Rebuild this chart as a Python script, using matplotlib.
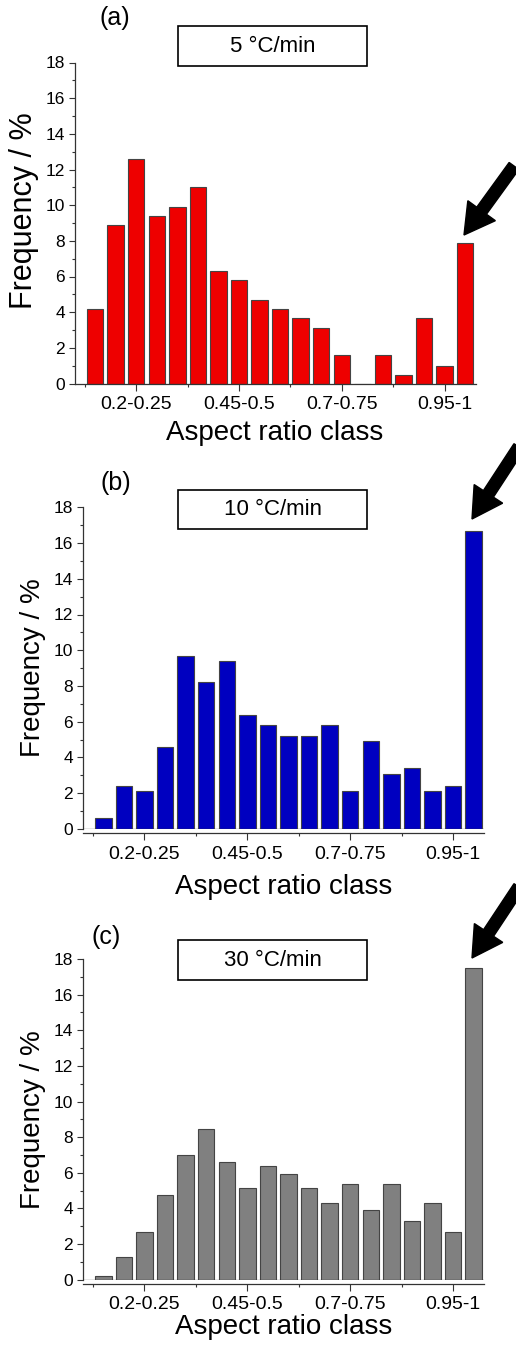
"""Aspect ratio class histograms for three heating rates (a)-(c)."""
import matplotlib; matplotlib.use("Agg")
import matplotlib.pyplot as plt
from matplotlib.patches import Rectangle, FancyArrow
from matplotlib.transforms import IdentityTransform
from matplotlib.ticker import FixedLocator, MultipleLocator

plt.rcParams["font.family"] = ["Liberation Sans", "DejaVu Sans"]

W, H = 516, 1349

# 19 aspect ratio classes, labelled every 5th one
class_idx = list(range(19))
tick_idx = [2, 7, 12, 17]
tick_labels = ["0.2-0.25", "0.45-0.5", "0.7-0.75", "0.95-1"]

freq_5 = [4.2, 8.9, 12.6, 9.4, 9.9, 11.0, 6.3, 5.8, 4.7, 4.2, 3.7, 3.1, 1.6, 0.0, 1.6, 0.5, 3.7, 1.0, 7.9]
freq_10 = [0.6, 2.4, 2.1, 4.6, 9.7, 8.2, 9.4, 6.4, 5.8, 5.2, 5.2, 5.8, 2.1, 4.9, 3.1, 3.4, 2.1, 2.4, 16.7]
freq_30 = [0.2, 1.25, 2.7, 4.75, 7.0, 8.45, 6.6, 5.15, 6.4, 5.95, 5.15, 4.3, 5.35, 3.9, 5.35, 3.3, 4.3, 2.7, 17.5]

rates = ["5 °C/min", "10 °C/min", "30 °C/min"]
tags = ["(a)", "(b)", "(c)"]

# panel layout in pixels (left, right, top(y=18), bottom(y=0)) and styling
panels = [
    dict(data=freq_5, color="#ee0000", box=(178, 367, 26, 66), lbl=(115, 18), lblfs=18,
         ax=(74.5, 475.5, 62.5, 383.5), off=0, ylab_y=0.537, ylab_fs=22, xlab_dy=49.5, arrow=(514, 166, 464, 235)),
    dict(data=freq_10, color="#0000c0", box=(178, 367, 490, 529), lbl=(116, 483), lblfs=18,
         ax=(82.7, 484, 507.3, 828.9), off=3, ylab_y=0.5, ylab_fs=20, xlab_dy=58, arrow=(519, 447, 472, 519)),
    dict(data=freq_30, color="#808080", box=(178, 367, 940, 980), lbl=(106, 937), lblfs=18,
         ax=(82.7, 484, 959, 1279.7), off=3, ylab_y=0.5, ylab_fs=20, xlab_dy=47, arrow=(519, 887, 472, 958)),
]

fig = plt.figure(figsize=(W / 100, H / 100), dpi=100)

for p, rate, tag in zip(panels, rates, tags):
    l, r, t, b = p["ax"]
    ax = fig.add_axes([l / W, (H - b) / H, (r - l) / W, (b - t) / H])
    ax.bar(class_idx, p["data"], width=0.8, color=p["color"], edgecolor="#444444", linewidth=0.8, zorder=2)
    ax.set_xlim(-1, 18.5)
    ax.set_ylim(0, 18)
    for s in ["top", "right"]:
        ax.spines[s].set_visible(False)
    for s in ["left", "bottom"]:
        ax.spines[s].set_color("#333333")
        ax.spines[s].set_linewidth(0.9)
    if p["off"]:
        ax.spines["bottom"].set_position(("outward", p["off"]))
        ax.axhline(0, color="#333333", lw=0.9, zorder=3)
    ax.xaxis.set_major_locator(FixedLocator(tick_idx))
    ax.xaxis.set_minor_locator(FixedLocator([-0.5, 4.5, 9.5, 14.5]))
    ax.set_xticklabels(tick_labels)
    ax.yaxis.set_major_locator(MultipleLocator(2))
    ax.yaxis.set_minor_locator(MultipleLocator(1))
    ax.tick_params(axis="x", which="major", length=5, width=0.8, pad=4, labelsize=14, color="#333333")
    ax.tick_params(axis="x", which="minor", length=2.5, width=0.8, color="#333333")
    ax.tick_params(axis="y", which="major", length=4, width=0.8, pad=3, labelsize=12.5, color="#333333")
    ax.tick_params(axis="y", which="minor", length=2, width=0.8, color="#333333")

    ax.set_ylabel("Frequency / %", fontsize=p["ylab_fs"])
    ax.yaxis.set_label_coords(-0.125, p["ylab_y"])
    ax.yaxis.label.set_va("center")
    ax.set_xlabel("Aspect ratio class", fontsize=20)
    ax.xaxis.set_label_coords(0.5, -p["xlab_dy"] / (b - t))
    ax.xaxis.label.set_va("center")

    # rate box
    x0, x1, y0, y1 = p["box"]
    fig.add_artist(Rectangle((x0 / W, (H - y1) / H), (x1 - x0) / W, (y1 - y0) / H,
                             transform=fig.transFigure, fill=False, edgecolor="black", lw=1.2))
    fig.text((x0 + x1) / 2 / W, (H - (y0 + y1) / 2) / H, rate, ha="center", va="center", fontsize=16)

    # panel tag
    fig.text(p["lbl"][0] / W, (H - p["lbl"][1]) / H, tag, ha="center", va="center", fontsize=p["lblfs"])

    # arrow pointing to the 0.95-1 class
    tx, ty, hx, hy = p["arrow"]
    fig.add_artist(FancyArrow(tx, H - ty, hx - tx, -(hy - ty), width=12, head_width=34, head_length=30,
                              length_includes_head=True, color="black", transform=IdentityTransform()))

fig.savefig("out.png", dpi=100)
